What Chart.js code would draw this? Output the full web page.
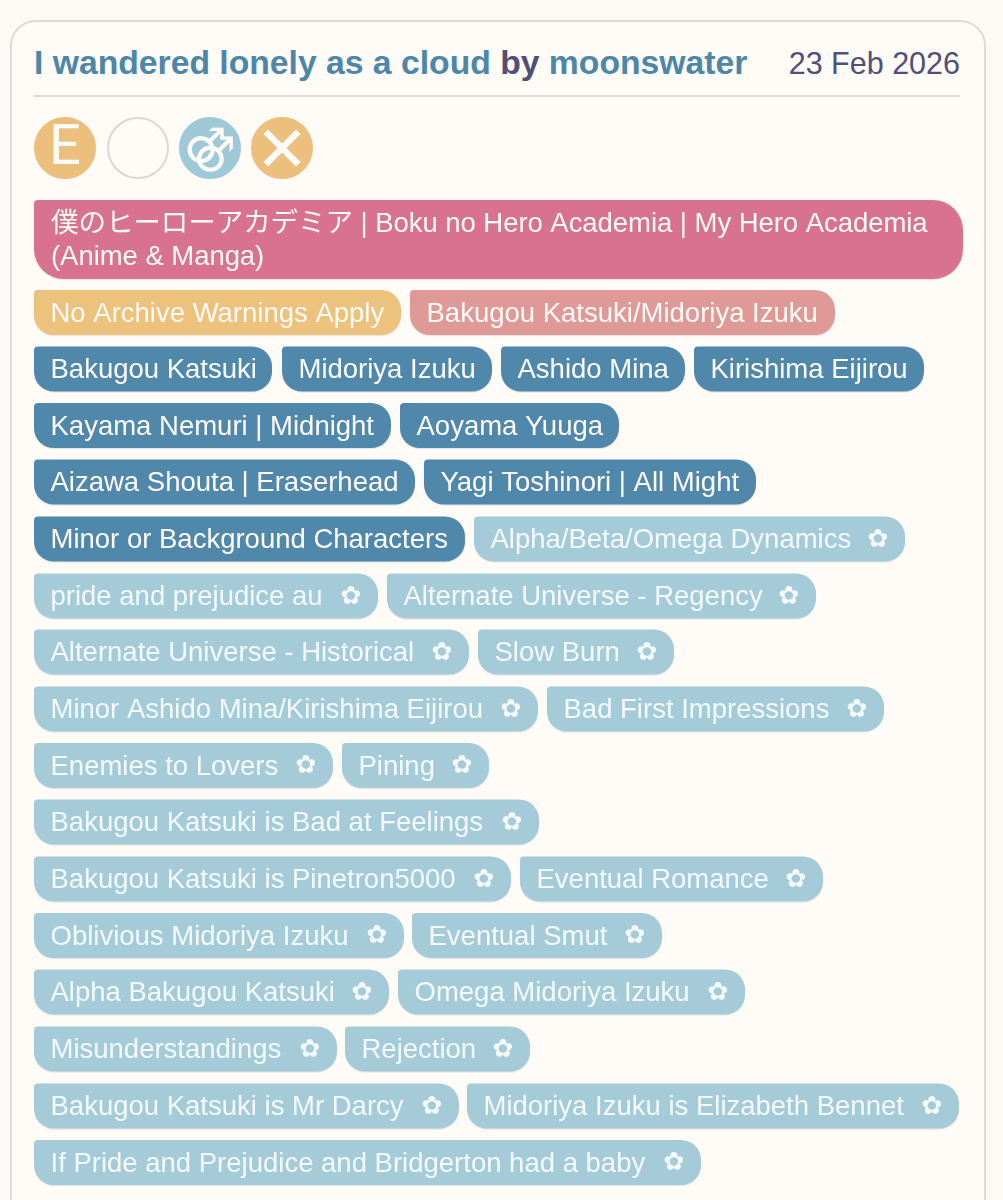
<!DOCTYPE html>
<html>
<head>
<meta charset="utf-8">
<script src="https://cdn.jsdelivr.net/npm/chart.js@4"></script>
<style>
  html, body { margin: 0; padding: 0; background: #fdf9f5; width: 1003px; height: 1200px; overflow: hidden; }
  #card { position: absolute; left: 10px; top: 20px; width: 972px; height: 1300px; background: #fffbf7; border: 2px solid #e5d8d4; border-radius: 26px; box-sizing: content-box; }
  #title, #date { position: absolute; top: 42px; line-height: 42px; font-family: "Liberation Sans", sans-serif; white-space: nowrap; }
  #title { left: 34px; top: 41px; font-size: 33.7px; font-weight: bold; color: #4c87a9; }
  #title span { color: #514f78; }
  #date { right: 43px; font-size: 30.5px; color: #514f78; }
  #rule { position: absolute; left: 34px; top: 95px; width: 926px; height: 2px; background: #e6d6d4; }
  canvas { position: absolute; left: 0; top: 0; }
</style>
</head>
<body>
<div id="card"></div>
<div id="title">I wandered lonely as a cloud <span>by</span> moonswater</div>
<div id="date">23 Feb 2026</div>
<div id="rule"></div>
<canvas id="chart" width="1003" height="1200"></canvas>
<script>
  const fandomLabel = ["僕のヒーローアカデミア | Boku no Hero Academia | My Hero Academia", "(Anime & Manga)"];
  const fandomRow = [239.5];
  const fandomSpan = [34, 963];

  const tagLabels = [
    "No Archive Warnings Apply", "Bakugou Katsuki/Midoriya Izuku",
    "Bakugou Katsuki", "Midoriya Izuku", "Ashido Mina", "Kirishima Eijirou",
    "Kayama Nemuri | Midnight", "Aoyama Yuuga",
    "Aizawa Shouta | Eraserhead", "Yagi Toshinori | All Might",
    "Minor or Background Characters", "Alpha/Beta/Omega Dynamics",
    "pride and prejudice au", "Alternate Universe - Regency",
    "Alternate Universe - Historical", "Slow Burn",
    "Minor Ashido Mina/Kirishima Eijirou", "Bad First Impressions",
    "Enemies to Lovers", "Pining",
    "Bakugou Katsuki is Bad at Feelings",
    "Bakugou Katsuki is Pinetron5000", "Eventual Romance",
    "Oblivious Midoriya Izuku", "Eventual Smut",
    "Alpha Bakugou Katsuki", "Omega Midoriya Izuku",
    "Misunderstandings", "Rejection",
    "Bakugou Katsuki is Mr Darcy", "Midoriya Izuku is Elizabeth Bennet",
    "If Pride and Prejudice and Bridgerton had a baby"
  ];
  const tagKinds = [
    "warning", "relationship",
    "character", "character", "character", "character",
    "character", "character",
    "character", "character",
    "character", "freeform",
    "freeform", "freeform", "freeform", "freeform", "freeform", "freeform",
    "freeform", "freeform", "freeform", "freeform", "freeform", "freeform",
    "freeform", "freeform", "freeform", "freeform", "freeform", "freeform",
    "freeform", "freeform"
  ];
  const tagRows = [
    312.5, 312.5, 369, 369, 369, 369, 425.5, 425.5, 482, 482, 539, 539,
    596, 596, 652, 652, 709, 709, 765.5, 765.5, 822, 879, 879, 935.5, 935.5,
    992, 992, 1049, 1049, 1106, 1106, 1162.5
  ];
  const tagStarts = [
    34, 410, 34, 282, 501, 694, 34, 400, 34, 424, 34, 474,
    34, 387, 34, 478, 34, 547, 34, 342, 34, 34, 520, 34, 412,
    34, 398, 34, 345, 34, 467, 34
  ];
  const tagEnds = [
    401, 835, 272, 492, 685, 924, 391, 619, 415, 756, 465, 905,
    378, 816, 469, 674, 538, 884, 333, 489, 539, 511, 823, 404, 662,
    389, 745, 337, 530, 459, 959, 701
  ];
  const kindNames = ["warning", "relationship", "character", "freeform"];
  const kindColors = ["#ecc27d", "#df9a98", "#4f88ab", "#a4cbd7"];

  const ratingX = [65, 138, 210, 282];
  const ratingY = [148, 148, 148, 148];
  const ratingFill = ["#ecc07c", "#fffbf7", "#9fc9d6", "#ecc07c"];
  const ratingBorder = ["#ecc07c", "#e3d5d1", "#9fc9d6", "#ecc07c"];
  const ratingGlyphs = ["E", "", "⚣", ""];

  const SANS = '"Liberation Sans", sans-serif';

  function tagsOfKind(kind) {
    const rows = [];
    tagLabels.forEach((label, i) => {
      if (tagKinds[i] !== kind) return;
      rows.push({ y: tagRows[i], x: [tagStarts[i], tagEnds[i]], label });
    });
    return rows;
  }

  const tagRadius = { topLeft: 4, topRight: 20, bottomRight: 20, bottomLeft: 20 };

  const datasets = [
    {
      type: "bar",
      label: "fandom",
      indexAxis: "y",
      grouped: false,
      barThickness: 79,
      inflateAmount: 0,
      borderSkipped: false,
      borderRadius: { topLeft: 4, topRight: 30, bottomRight: 30, bottomLeft: 30 },
      backgroundColor: "#d87290",
      data: [{ y: fandomRow[0], x: fandomSpan }]
    }
  ];
  kindNames.forEach((kind, i) => {
    datasets.push({
      type: "bar",
      label: kind,
      indexAxis: "y",
      grouped: false,
      barThickness: 45,
      inflateAmount: 0,
      borderSkipped: false,
      borderRadius: tagRadius,
      backgroundColor: kindColors[i],
      data: tagsOfKind(kind)
    });
  });
  // the X on the last badge, kept above the circles
  datasets.push({
    type: "scatter",
    label: "warning mark",
    order: -1,
    pointStyle: "crossRot",
    pointRadius: 23,
    pointBorderWidth: 6.5,
    pointBorderColor: "#fffbf7",
    data: [{ x: ratingX[3], y: ratingY[3] }]
  });
  datasets.push({
    type: "scatter",
    label: "ratings",
    pointStyle: "circle",
    pointRadius: 30,
    pointBorderWidth: 2,
    pointBackgroundColor: ratingFill,
    pointBorderColor: ratingBorder,
    data: ratingX.map((x, i) => ({ x, y: ratingY[i] }))
  });

  const tagTextPlugin = {
    id: "tagText",
    beforeDatasetDraw(chart, args) {
      const ctx = chart.ctx;
      ctx.save();
      if (chart.data.datasets[args.index].type === "bar") {
        ctx.shadowColor = "rgba(60,90,110,0.14)";
        ctx.shadowOffsetY = 1;
        ctx.shadowBlur = 1;
      }
    },
    afterDatasetDraw(chart) {
      chart.ctx.restore();
    },
    afterDraw(chart) {
      const ctx = chart.ctx;
      const x = chart.scales.x;
      const y = chart.scales.y;
      ctx.save();
      ctx.textBaseline = "middle";
      ctx.fillStyle = "#fffbf7";

      ctx.font = `27.5px ${SANS}, "Noto Sans CJK JP"`;
      ctx.letterSpacing = "-0.05px";
      ctx.fillText(fandomLabel[0], x.getPixelForValue(fandomSpan[0] + 17), y.getPixelForValue(fandomRow[0] - 15));
      ctx.fillText(fandomLabel[1], x.getPixelForValue(fandomSpan[0] + 17), y.getPixelForValue(fandomRow[0] + 18));
      ctx.letterSpacing = "0px";

      tagLabels.forEach((label, i) => {
        const free = tagKinds[i] === "freeform";
        ctx.fillStyle = free ? "#f4fafb" : "#fffbf7";
        ctx.font = `27.5px ${SANS}`;
        ctx.textAlign = "left";
        ctx.fillText(label, x.getPixelForValue(tagStarts[i] + 16.5), y.getPixelForValue(tagRows[i] + 1.5));
        if (free) {
          ctx.font = '25px "DejaVu Sans"';
          ctx.textAlign = "center";
          ctx.fillText("✿", x.getPixelForValue(tagEnds[i] - 27), y.getPixelForValue(tagRows[i] + 1));
        }
      });

      ctx.fillStyle = "#fffbf7";
      ctx.textAlign = "center";
      ratingGlyphs.forEach((glyph, i) => {
        if (!glyph) return;
        ctx.font = glyph === "E" ? "56px Roboto" : 'bold 48px "DejaVu Sans"';
        ctx.fillText(glyph, x.getPixelForValue(ratingX[i]), y.getPixelForValue(ratingY[i] + 2));
      });
      ctx.restore();
    }
  };

  new Chart(document.getElementById("chart"), {
    type: "bar",
    data: { datasets },
    options: {
      responsive: false,
      animation: false,
      layout: { padding: 0, autoPadding: false },
      scales: {
        x: { type: "linear", min: 0, max: 1003, display: false, offset: false },
        y: { type: "linear", min: 0, max: 1200, reverse: true, display: false, offset: false }
      },
      plugins: { legend: { display: false }, tooltip: { enabled: false } }
    },
    plugins: [tagTextPlugin]
  });
</script>
</body>
</html>
